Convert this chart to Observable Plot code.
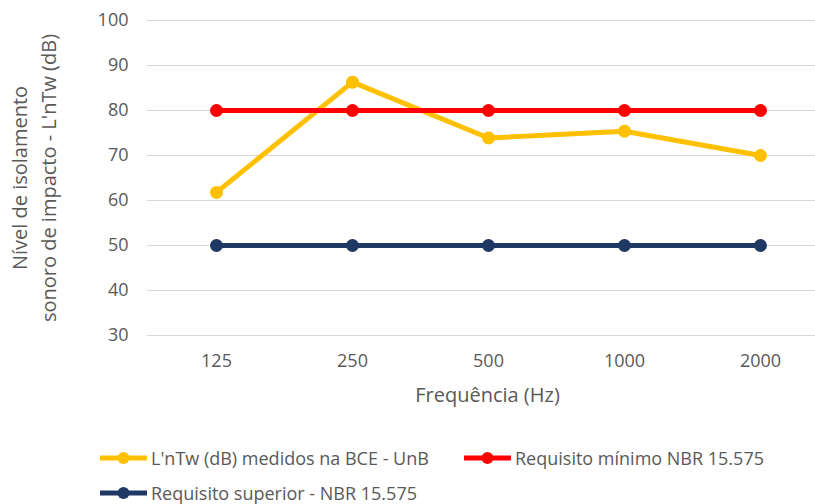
<!DOCTYPE html>
<html><head><meta charset="utf-8">
<script src="https://cdn.jsdelivr.net/npm/d3@7"></script>
<script src="https://cdn.jsdelivr.net/npm/@observablehq/plot@0.6"></script>
<style>
body{margin:0;background:#fff;font-family:"Open Sans",sans-serif;color:#595959;width:815px;height:504px;overflow:hidden}
#legend{display:grid;grid-template-columns:364px auto;grid-auto-rows:35px;align-items:center;padding-left:100px;padding-top:20px;font-size:18px}
.item{display:flex;align-items:center;white-space:nowrap}
.item svg{margin-right:4px;flex:none}
</style></head><body><div id="chart"></div><div id="legend"></div>
<script>
const frequencies = ["125", "250", "500", "1000", "2000"];
const measured = [61.8, 86.3, 73.9, 75.4, 70.0];
const minimumReq = [80, 80, 80, 80, 80];
const superiorReq = [50, 50, 50, 50, 50];
const seriesNames = ["L'nTw (dB) medidos na BCE - UnB", "Requisito mínimo NBR 15.575", "Requisito superior - NBR 15.575"];
const seriesColors = ["#FFC000", "#FF0000", "#1F3864"];
const yTicks = [30, 40, 50, 60, 70, 80, 90, 100];
const yTitle = "Nível de isolamento\nsonoro de impacto - L'nTw (dB)";
const xTitle = "Frequência (Hz)";

const seriesValues = [measured, minimumReq, superiorReq];
const data = [];
seriesNames.forEach((s, si) => frequencies.forEach((f, i) => data.push({series: s, freq: f, value: seriesValues[si][i]})));

const chart = Plot.plot({
  width: 815, height: 420,
  marginLeft: 147, marginRight: 0, marginTop: 20, marginBottom: 85,
  style: {fontFamily: "'Open Sans', sans-serif", fontSize: "18px", color: "#595959", background: "#fff"},
  x: {type: "point", domain: frequencies, range: [215, 760], padding: 0, label: null},
  y: {domain: [30, 100], label: null},
  color: {domain: seriesNames, range: seriesColors},
  marks: [
    Plot.ruleY(yTicks, {stroke: "#d9d9d9", strokeWidth: 1}),
    Plot.axisY({ticks: yTicks, tickSize: 0, tickPadding: 19, label: null, fill: "#595959", fontSize: 18}),
    Plot.axisX({tickSize: 0, tickPadding: 19, label: null, fill: "#595959", fontSize: 18}),
    Plot.line(data, {x: "freq", y: "value", stroke: "series", z: "series", strokeWidth: 5}),
    Plot.dot(data, {x: "freq", y: "value", fill: "series", r: 6.5}),
    Plot.text([xTitle], {frameAnchor: "bottom", dy: 60, dx: 6, lineAnchor: "middle", fill: "#595959", fontSize: 20}),
    Plot.text([yTitle], {frameAnchor: "left", rotate: -90, dx: -115, textAnchor: "middle", lineAnchor: "middle", lineHeight: 1.45, fill: "#595959", fontSize: 20})
  ]
});
document.getElementById("chart").appendChild(chart);

const legend = d3.select("#legend");
[0, 1, 2].forEach(i => {
  const item = legend.append("div").attr("class", "item");
  const sw = item.append("svg").attr("width", 47).attr("height", 14);
  sw.append("line").attr("x1", 0).attr("x2", 47).attr("y1", 7).attr("y2", 7).attr("stroke", seriesColors[i]).attr("stroke-width", 5);
  sw.append("circle").attr("cx", 23.5).attr("cy", 7).attr("r", 6).attr("fill", seriesColors[i]);
  item.append("span").text(seriesNames[i]);
});
</script>
</body></html>
